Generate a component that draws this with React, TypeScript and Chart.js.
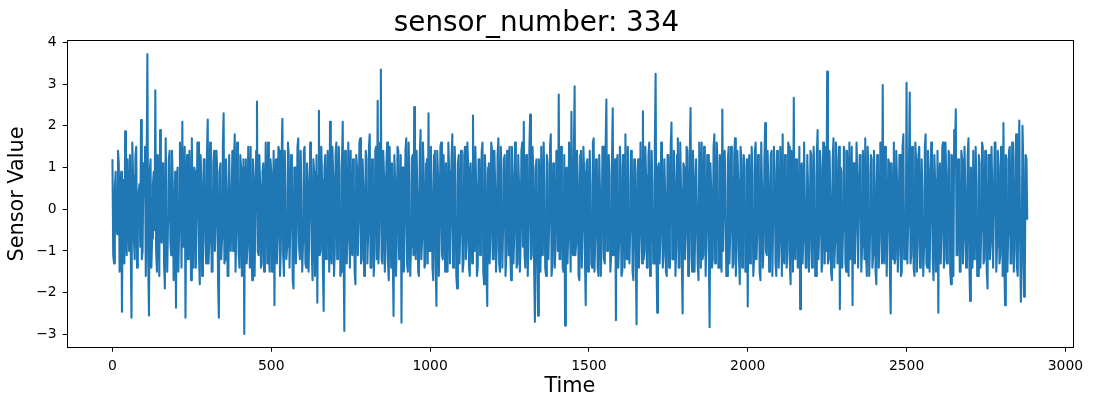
import React, { useEffect, useRef } from "react";
import { Chart, registerables } from "chart.js";

Chart.register(...registerables);

const TITLE = "sensor_number: 334";
const X_LABEL = "Time";
const Y_LABEL = "Sensor Value";
const SAMPLE_STEP = 5; // readings at t = 0, 5, 10, ...
const SAMPLE_OFFSET_B = 2.5; // readings at t = 2.5, 7.5, 12.5, ...
const X_TICKS = [0, 500, 1000, 1500, 2000, 2500, 3000];
const Y_TICKS = [-3, -2, -1, 0, 1, 2, 3, 4];
const X_RANGE = [-144, 3024];
const Y_RANGE = [-3.32, 4.05];

// sensor readings at t = 0, 5, 10, ... (one row per 100 time units)
const SENSOR_VALUES_A: number[] = [
  1.2, -1.3, 0.9, -0.6, 1.1, 0.5, -2.46, 0.7, 1.87, -1.1, 0.4, 1.3, -2.6, 0.8, -1.2, 1.5, -0.4, 0.6, 2.14, -1.0,
  0.3, -1.6, 3.72, -2.55, 1.2, -0.7, 0.9, 2.85, -1.5, 0.2, 1.9, -0.8, 1.1, -1.9, 0.5, -0.3, 1.4, -1.1, 0.6, -0.9,
  -2.36, 1.0, -0.5, 0.8, 2.1, -0.6, -2.6, 1.3, -1.2, 0.4, 1.7, -1.4, 0.9, -0.2, 1.6, -1.8, 0.7, -0.9, 1.2, -1.3,
  2.15, -0.8, 0.6, -1.5, 1.4, -0.3, 0.9, -2.6, 1.1, -0.7, 2.3, -1.2, 0.5, -1.6, 1.3, 0.1, -1.0, 1.8, -0.6, 0.8,
  -1.4, 1.0, -0.5, -2.99, 1.2, -0.9, 0.4, 1.5, -1.7, 0.7, -0.2, 2.58, -1.1, 0.6, -1.3, 1.1, -0.8, 0.3, 1.6, -1.5,
  0.9, -0.4, -2.3, 1.2, -0.7, 1.4, -1.0, 2.17, -1.6, 0.5, -0.9, 1.3, -0.3, 0.8, -1.9, 1.0, -0.6, 1.7, -1.2, 0.4,
  -0.8, 1.5, -1.4, 0.6, -0.2, 1.1, -1.7, 0.9, -0.5, -2.24, 2.36, -1.0, 0.7, -2.44, 1.3, -0.6, 0.5, 2.1, -1.3, 0.8,
  -1.0, 1.6, -0.4, 0.9, -1.5, 2.1, -2.92, 1.2, -0.7, 0.4, 1.4, -1.1, 0.6, -1.8, 1.0, -0.3, 1.7, -1.2, 0.5, -0.9,
  1.2, -0.6, 1.8, -1.4, 0.3, -1.0, 1.5, 2.6, -0.5, 3.35, -1.3, 0.8, -0.9, 1.6, -1.7, 0.5, 1.1, -2.56, 0.7, -0.8,
  1.4, -1.1, -2.72, 1.0, -0.4, 1.7, -1.5, 0.6, -0.9, 1.3, 2.45, -1.2, 0.4, -1.6, 1.9, -0.7, 0.9, -1.3, 1.2, 2.3,
  -1.0, 0.5, -1.7, 1.4, -2.32, 0.8, -0.6, 1.6, -1.2, 0.3, 1.1, -1.5, 0.9, -0.4, 1.8, -1.1, 0.6, -1.9, 1.3, -0.5,
  0.7, -1.3, 1.5, -0.8, 1.0, -1.6, 0.4, 2.25, -1.0, 0.6, -1.4, 1.2, -0.3, 1.6, -1.8, 0.8, -2.32, 1.1, -0.7, 1.4,
  -1.2, 0.5, -0.9, 1.7, -1.5, 0.9, -0.4, 1.3, -1.1, 0.2, 1.5, -1.7, 0.8, -0.6, 1.2, -1.3, 0.6, -0.8, 1.6, 2.1,
  -1.4, 0.7, -0.5, 2.27, -1.1, 0.9, -2.7, 1.2, -2.55, 0.4, 1.5, -1.0, 0.6, -1.6, 1.1, -0.3, 1.8, -1.3, 0.8, -0.9,
  1.3, 2.75, -1.2, 0.5, -1.5, -2.79, 1.0, -0.6, 1.6, 2.34, -1.1, 2.95, -0.8, 0.7, -1.7, 1.4, -0.5, 0.9, -2.3, 1.2,
  -1.0, 0.6, -1.4, 1.7, -0.7, 1.1, -1.6, 0.4, -0.9, 1.5, -1.3, 2.63, -0.6, 0.8, -1.1, 2.42, -0.4, -2.66, 1.3, -0.8,
  1.0, -1.5, 0.5, 1.8, -1.2, 0.7, -0.5, 1.4, -1.7, 0.9, -2.76, 1.2, -0.6, 0.3, 2.35, -1.0, 0.8, -1.4, 1.6, -0.9,
  0.6, -1.3, 3.25, -2.48, 1.1, -0.7, 1.5, -1.1, 0.4, -1.6, 1.3, -0.5, 2.08, -1.2, 0.7, -0.9, 1.7, -1.4, 0.5, -2.5,
  1.0, -0.6, 1.4, -1.0, 2.43, -1.5, 0.8, -0.3, 1.2, -1.7, 0.6, 1.6, -1.1, 0.9, -0.7, 1.3, -2.83, 0.5, -1.2, 1.8,
  -0.8, 1.1, -1.4, 0.6, 2.39, -1.0, 0.4, -1.6, 1.5, -0.5, 0.9, -1.3, 1.7, -0.9, 0.7, -1.8, 1.2, -0.4, 1.0, -1.5,
  -2.33, 1.3, -0.7, 0.8, -1.2, 1.6, -0.6, 1.0, -1.7, 0.5, -0.9, 2.07, -1.1, 0.7, -1.4, 1.4, -0.3, 0.9, -1.6, 1.2,
  -0.8, 0.6, 1.8, -1.3, 0.4, -1.0, 1.5, -1.8, 0.7, 2.67, -1.2, 0.9, -0.5, -2.4, 1.1, -0.7, 1.6, -1.4, 0.5, -0.9,
  1.3, -1.1, 0.8, -1.6, 1.9, -0.6, 1.0, -1.3, 0.6, 1.5, 3.3, -1.2, 0.4, -1.7, 1.7, -0.8, 1.2, -1.0, -2.4, 0.9,
  -0.5, 1.4, -1.5, 0.7, 1.6, -1.2, -2.3, 1.1, -0.4, 0.8, -1.4, 1.3, -0.9, 0.5, 1.7, -1.6, 0.9, -0.6, 1.2, -1.1,
  0.6, -1.8, 1.0, -0.7, 1.5, 2.98, -1.3, 0.8, -0.5, 1.1, -2.5, 0.4, 1.6, -1.2, 0.7, -1.0, 1.3, -1.5, 1.8, -0.6,
  3.03, -0.4, 2.8, -1.1, 0.6, -1.6, 1.2, -0.8, 1.5, -1.3, 0.5, -0.9, 1.8, -1.4, 0.9, -0.3, 1.4, -1.7, 0.7, -1.0,
  -2.48, 1.1, -0.6, 1.6, -1.2, 0.8, -0.4, 1.3, -1.8, 0.6, 1.9, 2.4, -1.1, 0.9, -1.5, 1.2, -0.7, 0.5, -1.3, 1.7,
  -2.2, 0.7, 1.4, -1.0, 0.6, -1.6, 1.1, -0.5, 1.5, -1.2, 0.8, -1.9, 1.3, -0.8, 0.4, -1.4, 1.6, -0.9, 1.0, -1.1,
  0.7, 2.07, -2.3, 1.2, -0.6, 1.5, -1.3, 0.9, -1.0, 1.8, -1.6, 2.13, -2.22, 2.0, -2.1, 1.3, -0.25,
];

// sensor readings at t = 2.5, 7.5, 12.5, ... (one row per 100 time units)
const SENSOR_VALUES_B: number[] = [
  -1.1, 0.5, -0.4, 1.4, -1.5, 0.9, 0.3, -1.3, -0.6, 1.2, -1.0, -0.8, 1.6, -0.7, 1.3, -1.4, 0.4, -0.9, -1.2, 1.1,
  1.5, 0.8, -1.2, 0.9, -1.4, 0.6, -0.5, -1.0, 1.3, -1.6, -0.7, 1.1, -1.3, 1.7, -1.5, 1.2, -0.8, 1.4, -1.7, 0.9,
  0.7, -1.5, 1.6, -1.4, -0.9, 1.5, 0.6, -1.2, 1.4, -1.7, -0.6, 1.0, -1.4, 1.6, -1.1, 1.3, -1.6, 1.2, -0.8, 1.3,
  -1.3, 1.6, -1.5, 1.1, -1.0, 1.4, -1.7, 0.9, -1.2, 1.5, -1.3, 1.2, -1.6, 1.3, -1.0, 1.4, 1.1, -1.5, 1.6, -1.1,
  1.3, -1.6, 1.2, 1.0, -1.3, 1.5, -1.4, -0.9, 1.2, -1.6, 1.4, -1.0, 1.3, -1.4, 0.9, -1.5, 1.6, -1.3, -1.1, 1.2,
  -1.5, 1.4, 0.9, -1.3, 1.5, -1.6, 1.2, -1.1, 1.4, -1.2, 1.6, -1.4, 1.3, -1.7, 1.0, -1.3, 1.5, -0.9, 1.4, -1.5,
  1.4, -1.3, 1.1, -1.5, 1.6, -1.0, 1.2, -1.6, 1.3, 0.8, -1.1, 1.5, -1.4, 1.0, -1.2, 1.4, -1.5, -1.0, 1.5, -1.6,
  1.3, -1.2, 1.5, -1.6, 1.1, -0.9, 1.4, -1.3, 1.6, -1.4, -1.0, 1.2, -1.5, 1.3, -1.1, 1.6, -1.3, 1.2, -1.6, 1.4,
  -1.3, 1.5, -1.4, 1.2, -1.6, 1.4, -1.2, -1.3, 1.6, -1.2, 1.4, -1.5, 1.1, -1.3, 1.5, -1.4, -1.1, 1.3, -1.6, 1.5,
  -1.2, 1.3, 1.0, -1.5, 1.4, -1.3, 1.6, -1.6, 1.2, -1.1, -0.9, 1.4, -1.5, 1.3, -1.2, 1.6, -1.4, 1.1, -1.3, -1.0,
  1.5, -1.4, 1.3, -1.2, 1.4, -1.6, 1.5, -1.1, 1.3, -1.5, -1.0, 1.6, -1.3, 1.2, -1.4, 1.5, -1.6, 1.1, -1.3, 1.4,
  -1.5, 1.3, -1.2, 1.6, -1.4, 1.1, -1.3, -1.0, 1.5, -1.6, 1.2, -1.1, 1.4, -1.5, 1.3, -1.4, 1.0, -1.3, 1.6, -1.2,
  1.4, -1.5, 1.3, -1.3, 1.5, -1.4, 1.2, -1.6, 1.4, -1.1, -1.0, 1.5, -1.3, 1.6, -1.4, 1.3, -1.5, 1.4, -0.9, -1.1,
  1.3, -1.6, 1.4, -1.2, 1.5, -1.4, 1.0, -1.3, 1.2, -1.5, -1.1, 1.6, -1.4, 1.3, -1.2, 1.5, -1.6, 1.1, -1.4, 1.4,
  -1.0, -1.2, 1.5, -1.4, 1.3, 0.9, -1.3, 1.6, -1.5, -0.9, 1.2, -1.1, 1.4, -1.6, 1.3, -1.4, 1.5, -1.2, 1.1, -1.5,
  1.4, -1.3, 1.6, -1.5, 1.2, -1.4, 1.3, -1.6, 1.5, -1.2, 1.4, -1.0, 1.3, -1.5, 1.1, -1.1, 1.2, 1.0, -1.4, 1.5,
  -1.6, 1.3, -1.4, -1.1, 1.5, -1.3, 1.4, -1.5, 1.2, -1.0, 0.9, -1.4, 1.6, -1.3, -1.2, 1.5, -1.4, 1.3, -1.6, 1.4,
  -1.3, 1.5, -1.0, 1.0, -1.3, 1.6, -1.4, 1.2, -1.5, 1.3, -1.4, 1.5, -1.2, 1.4, -1.6, 1.3, -1.4, 1.6, -1.3, 1.1,
  -1.2, 1.5, -1.6, 1.3, -1.1, 1.4, -1.5, 1.2, -1.3, 1.6, -1.4, -1.2, 1.5, -1.6, 1.3, -1.0, 1.1, -1.4, 1.5, -1.3,
  1.6, -1.4, 1.3, -1.5, -1.0, 1.4, -1.6, 1.2, -1.3, 1.5, -1.4, 1.3, -1.6, 1.4, -1.2, 1.5, -1.4, 1.3, -1.5, 1.2,
  1.1, -1.3, 1.5, -1.6, 1.4, -1.2, 1.3, -1.5, 1.6, -1.4, 1.2, -1.0, 1.4, -1.5, 1.3, -1.6, 1.5, -1.3, 1.4, -1.4,
  1.5, -1.6, -1.1, 1.3, -1.4, 1.6, -1.3, 1.4, -1.5, -1.0, 1.2, -1.4, 1.5, 1.0, -1.3, 1.6, -1.4, 1.3, -1.5, 1.4,
  -1.4, 1.5, -1.6, 1.3, -1.2, 1.4, -1.5, 1.6, -1.3, -1.0, -1.3, 1.4, -1.5, 1.2, -1.4, 1.6, -1.3, 1.5, 1.0, -1.4,
  1.5, -1.3, 1.4, -1.6, -1.2, 1.5, 1.1, -1.3, 1.6, -1.4, 1.3, -1.5, 1.4, -1.2, -1.1, 1.5, -1.6, 1.3, -1.4, 1.4,
  -1.5, 1.3, -1.4, 1.6, -1.3, -1.1, 1.5, -1.6, 1.2, -1.4, 1.1, -1.2, -1.3, 1.4, -1.5, 1.3, -1.6, 1.5, -1.2, -1.2,
  -1.3, 1.0, -1.3, 1.5, -1.4, 1.6, -1.5, 1.3, -1.4, 1.2, -1.6, 1.5, -1.3, 1.4, -1.5, 1.6, -1.2, 1.3, -1.5, 1.4,
  1.0, -1.3, 1.5, -1.4, 1.6, -1.3, 1.4, -1.5, 1.3, -1.6, 1.4, -1.1, 1.2, -1.5, 1.4, -1.3, 1.5, -1.4, 1.3, -1.2,
  1.0, -1.4, -1.2, 1.5, -1.6, 1.3, -1.4, 1.6, -1.3, 1.4, -1.5, 1.3, -1.2, 1.5, -1.4, 1.6, -1.5, 1.4, -1.3, 1.5,
  -1.6, -1.0, 1.3, -1.5, 1.4, -1.3, 1.6, -1.5, 1.2, -1.4, 0.9, -0.8, -1.3, 1.1, -1.4, 1.2,
];

const FONT = "'DejaVu Sans', sans-serif";

function buildPoints() {
  const pts: { x: number; y: number }[] = [];
  SENSOR_VALUES_A.forEach((v, i) => {
    pts.push({ x: i * SAMPLE_STEP, y: v });
    if (i < SENSOR_VALUES_B.length) {
      pts.push({ x: i * SAMPLE_STEP + SAMPLE_OFFSET_B, y: SENSOR_VALUES_B[i] });
    }
  });
  return pts;
}

const frame = {
  id: "frame",
  afterDraw(chart: any) {
    const { ctx, chartArea } = chart;
    ctx.save();
    ctx.strokeStyle = "#000";
    ctx.lineWidth = 1;
    ctx.strokeRect(
      Math.round(chartArea.left) + 0.5,
      Math.round(chartArea.top) + 0.5,
      Math.round(chartArea.right - chartArea.left),
      Math.round(chartArea.bottom - chartArea.top)
    );
    ctx.restore();
  },
};

export default function App() {
  const ref = useRef<HTMLCanvasElement | null>(null);
  useEffect(() => {
    document.body.style.margin = "0";
    const canvas = ref.current;
    if (!canvas) return;
    const chart = new Chart(canvas, {
      type: "line",
      data: {
        datasets: [
          {
            data: buildPoints(),
            borderColor: "#1f77b4",
            borderWidth: 2.08,
            pointRadius: 0,
            tension: 0,
            fill: false,
            borderJoinStyle: "round",
          },
        ],
      },
      options: {
        animation: false,
        responsive: false,
        maintainAspectRatio: false,
        layout: { padding: { left: 0, right: 20, top: 0, bottom: 0 } },
        plugins: {
          legend: { display: false },
          tooltip: { enabled: false },
          title: {
            display: true,
            text: TITLE,
            color: "#000",
            font: { family: FONT, size: 27.8, weight: "normal", lineHeight: 1.2 },
            padding: { top: 7, bottom: 0 },
          },
        },
        scales: {
          x: {
            type: "linear",
            min: X_RANGE[0],
            max: X_RANGE[1],
            afterBuildTicks: (s: any) => {
              s.ticks = X_TICKS.map((v) => ({ value: v }));
            },
            afterFit: (s: any) => {
              s.height = 59.3;
            },
            grid: {
              display: true,
              drawOnChartArea: false,
              drawTicks: true,
              tickLength: 4,
              color: "#000",
              lineWidth: 1,
            },
            border: { display: false },
            ticks: {
              color: "#000",
              padding: 6,
              maxRotation: 0,
              font: { family: FONT, size: 13.9 },
              callback: (v: any) => String(v),
            },
            title: {
              display: true,
              text: X_LABEL,
              color: "#000",
              font: { family: FONT, size: 20.8, lineHeight: 1.2 },
              padding: { top: 0, bottom: 8 },
            },
          },
          y: {
            type: "linear",
            min: Y_RANGE[0],
            max: Y_RANGE[1],
            afterBuildTicks: (s: any) => {
              s.ticks = Y_TICKS.map((v) => ({ value: v }));
            },
            afterFit: (s: any) => {
              s.width = 66.7;
            },
            grid: {
              display: true,
              drawOnChartArea: false,
              drawTicks: true,
              tickLength: 4,
              color: "#000",
              lineWidth: 1,
            },
            border: { display: false },
            ticks: {
              color: "#000",
              padding: 6,
              font: { family: FONT, size: 13.9 },
              callback: (v: any) => String(v).replace("-", "\u2212"),
            },
            title: {
              display: true,
              text: Y_LABEL,
              color: "#000",
              font: { family: FONT, size: 20.8, lineHeight: 1.2 },
              padding: { top: 5, bottom: 0 },
            },
          },
        },
      },
      plugins: [frame],
    } as any);
    return () => chart.destroy();
  }, []);
  return (
    <div style={{ position: "absolute", left: 0, top: 0, width: 1093, height: 407, background: "#fff" }}>
      <canvas ref={ref} width={1093} height={407} />
    </div>
  );
}
